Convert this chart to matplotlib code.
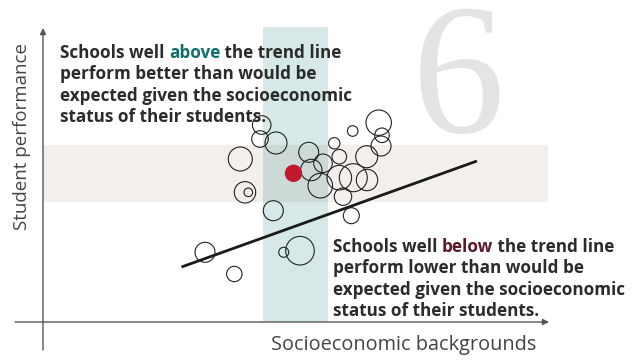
import matplotlib
matplotlib.use("Agg")
import matplotlib.pyplot as plt
from matplotlib.patches import Circle, Rectangle, FancyArrowPatch

# schools (circle centre x, y and radius, in picture units; y grows downward)
school_x = [261.7, 260.0, 276.0, 240.3, 308.7, 334.3, 352.7, 378.7, 382.0, 381.0,
            366.7, 339.3, 323.0, 311.3, 320.3, 339.3, 353.3, 367.0, 343.0, 245.0,
            248.3, 273.3, 351.3, 205.0, 300.0, 283.7, 234.3]
school_y = [125.0, 139.0, 143.0, 159.0, 152.3, 143.3, 131.0, 122.7, 135.3, 146.0,
            156.7, 156.7, 163.3, 170.0, 185.7, 177.7, 177.7, 180.0, 196.7, 192.3,
            192.3, 210.7, 215.7, 252.3, 250.7, 252.3, 274.0]
school_r = [9.3, 8.3, 11.0, 12.0, 10.0, 5.7, 5.3, 12.7, 7.3, 10.0,
            11.0, 7.3, 9.3, 10.7, 12.3, 12.3, 14.0, 10.7, 8.7, 10.7,
            4.3, 10.0, 8.0, 10.0, 14.3, 5.0, 7.7]
highlight = (293.5, 173.3, 8.7)

trend_x = [181.5, 477.0]
trend_y = [267.0, 161.0]

above_lines = [
    [("Schools well ", "#2b2b2b"), ("above", "#0e6f6b"), (" the trend line", "#2b2b2b")],
    [("perform better than would be", "#2b2b2b")],
    [("expected given the socioeconomic", "#2b2b2b")],
    [("status of their students.", "#2b2b2b")],
]
below_lines = [
    [("Schools well ", "#2b2b2b"), ("below", "#5c1827"), (" the trend line", "#2b2b2b")],
    [("perform lower than would be", "#2b2b2b")],
    [("expected given the socioeconomic", "#2b2b2b")],
    [("status of their students.", "#2b2b2b")],
]

fig = plt.figure(figsize=(6.38, 3.6), dpi=100)
ax = fig.add_axes([0, 0, 1, 1])
ax.set_xlim(0, 638)
ax.set_ylim(360, 0)
ax.axis("off")

teal = (214 / 255, 232 / 255, 232 / 255)
beige = (243 / 255, 239 / 255, 236 / 255)
mix = tuple(a * b for a, b in zip(teal, beige))

# bands
bx0, bx1, by0, by1 = 43, 548, 145, 202
tx0, tx1, ty0, ty1 = 263, 328, 27, 322
ax.add_patch(Rectangle((bx0, by0), bx1 - bx0, by1 - by0, color=beige, lw=0, zorder=1))
ax.add_patch(Rectangle((tx0, ty0), tx1 - tx0, ty1 - ty0, color=teal, lw=0, zorder=1))
ax.add_patch(Rectangle((tx0, by0), tx1 - tx0, by1 - by0, color=mix, lw=0, zorder=1))

# big number
ax.text(459, 132, "6", family="Liberation Serif", fontsize=134, color="#e4e4e4",
        ha="center", va="baseline", zorder=0)

# axes with arrows
ax.add_patch(FancyArrowPatch((43, 350), (43, 28), arrowstyle="-|>", mutation_scale=9,
                             color="#555555", lw=1.0, zorder=2, shrinkA=0, shrinkB=0))
ax.add_patch(FancyArrowPatch((15, 322), (549, 322), arrowstyle="-|>", mutation_scale=9,
                             color="#555555", lw=1.0, zorder=2, shrinkA=0, shrinkB=0))
ax.text(22, 136, "Student performance", rotation=90, family="Open Sans",
        fontsize=13.5, color="#444444", ha="center", va="center")
ax.text(404, 345, "Socioeconomic backgrounds", family="Open Sans",
        fontsize=14.3, color="#444444", ha="center", va="center")

# trend line and schools
ax.plot(trend_x, trend_y, color="#1a1a1a", lw=2.0, solid_capstyle="butt", zorder=3)
for x, y, r in zip(school_x, school_y, school_r):
    ax.add_patch(Circle((x, y), r, fill=False, ec="#222222", lw=0.8, zorder=4))
ax.add_patch(Circle(highlight[:2], highlight[2], color="#c0182c", lw=0, zorder=5))

renderer = fig.canvas.get_renderer()
inv = ax.transData.inverted()


def rich_block(x0, y0, lines, step=21.3):
    for i, parts in enumerate(lines):
        x = x0
        y = y0 + i * step
        for s, c in parts:
            t = ax.text(x, y, s, color=c, family="Open Sans", weight="bold",
                        fontsize=12.3, ha="left", va="center", zorder=6)
            bb = t.get_window_extent(renderer)
            x = inv.transform((bb.x1, bb.y0))[0]


rich_block(60, 53, above_lines)
rich_block(333, 247, below_lines)

fig.savefig("out.png", dpi=100)
